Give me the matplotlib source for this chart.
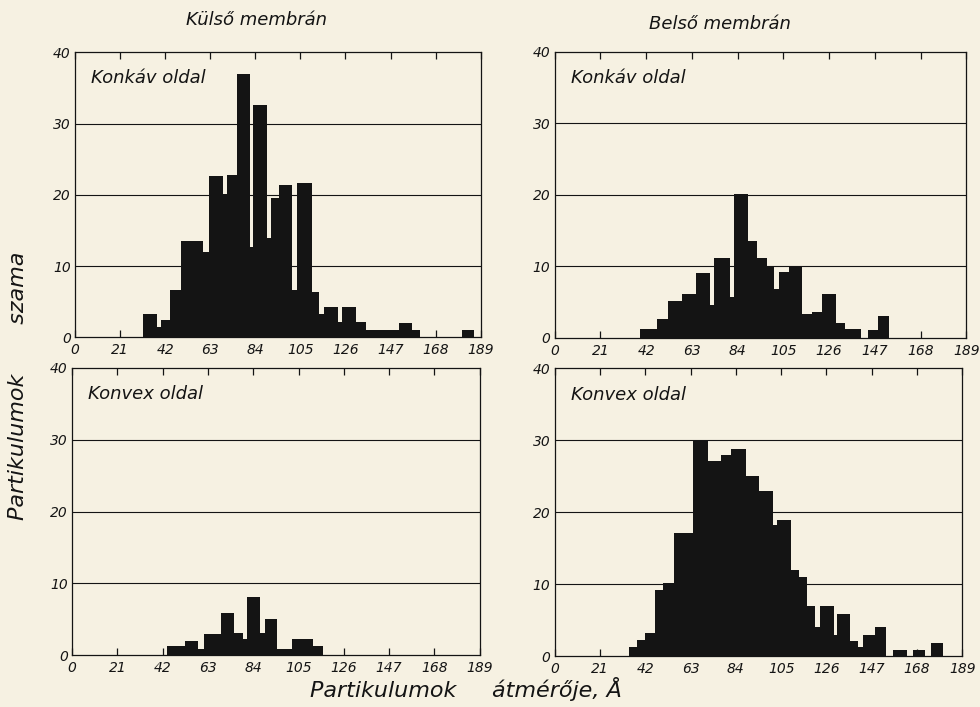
import matplotlib.pyplot as plt
import numpy as np

# bin edges (Å) and particle counts
kulso_konkav_edges = [31.8, 38.0, 40.0, 44.2, 49.3, 59.7, 62.4, 69.0, 70.6, 75.6,
                      81.5, 83.0, 89.5, 91.1, 95.0, 101.2, 103.5, 110.2, 113.8,
                      116.0, 122.3, 124.5, 130.7, 135.5, 151.0, 156.8, 160.6]
kulso_konkav_counts = [3.3, 1.5, 2.4, 6.6, 13.5, 11.9, 22.7, 20.1, 22.8, 37.0,
                       12.7, 32.6, 13.9, 19.6, 21.4, 6.7, 21.7, 6.3, 3.3,
                       4.2, 2.2, 4.2, 2.2, 1.0, 2.0, 1.0]
kulso_konkav_extra_edges = [180.3, 185.8]
kulso_konkav_extra_counts = [1.0]

belso_konkav_edges = [39.2, 47.1, 52.0, 58.3, 64.8, 71.2, 73.3, 80.6, 82.4, 88.9,
                      92.9, 97.4, 100.9, 103.2, 107.7, 113.7, 118.2, 122.7,
                      129.1, 133.3, 140.8]
belso_konkav_counts = [1.3, 2.6, 5.2, 6.2, 9.1, 4.6, 11.1, 5.7, 20.1, 13.5,
                       11.2, 10.1, 6.8, 9.2, 10.0, 3.4, 3.6, 6.2, 2.1, 1.2]
belso_konkav_extra_edges = [143.8, 148.3, 153.6]
belso_konkav_extra_counts = [1.1, 3.0]

kulso_konvex_edges = [44.0, 52.5, 58.2, 61.0, 69.0, 75.2, 79.2, 81.0, 87.2, 89.5,
                      95.2, 101.9, 111.9, 116.2]
kulso_konvex_counts = [1.2, 2.0, 0.8, 3.0, 5.9, 3.1, 2.2, 8.1, 3.1, 5.0,
                       0.9, 2.2, 1.2]

belso_konvex_edges = [34.4, 38.3, 41.8, 46.4, 50.0, 55.1, 64.3, 71.2, 77.3, 81.9,
                      88.8, 94.9, 101.0, 103.0, 109.4, 113.2, 116.8, 120.9,
                      122.9, 129.3, 130.8, 137.0, 140.8, 143.1, 148.4, 153.8]
belso_konvex_counts = [1.2, 2.3, 3.2, 9.2, 10.2, 17.1, 29.9, 27.1, 27.9, 28.8,
                       25.1, 23.0, 18.2, 18.9, 11.9, 11.0, 6.9, 4.0, 6.9, 2.9,
                       5.8, 2.1, 1.2, 2.9, 4.0]
belso_konvex_extra = [(156.8, 163.3, 0.9), (166.0, 171.8, 0.9), (174.4, 179.8, 1.8)]

x_ticks = [0, 21, 42, 63, 84, 105, 126, 147, 168, 189]
y_ticks = [0, 10, 20, 30, 40]

paper = "#f6f1e2"
ink = "#141414"

plt.rcParams["font.family"] = "DejaVu Sans"
plt.rcParams["font.style"] = "italic"

fig = plt.figure(figsize=(9.8, 7.07), dpi=100)
fig.patch.set_facecolor(paper)

ax_tl = fig.add_axes([0.0765, 0.523, 0.414, 0.403])
ax_tr = fig.add_axes([0.566, 0.522, 0.420, 0.405])
ax_bl = fig.add_axes([0.0735, 0.0735, 0.416, 0.406])
ax_br = fig.add_axes([0.566, 0.072, 0.416, 0.407])


def draw_hist(ax, edges, counts):
    ax.stairs(counts, edges, fill=True, color=ink, baseline=0, zorder=3)


def style(ax, label):
    ax.set_facecolor(paper)
    ax.set_xlim(0, 189)
    ax.set_ylim(0, 40)
    ax.set_xticks(x_ticks)
    ax.set_yticks(y_ticks)
    ax.tick_params(axis="x", direction="in", top=True, length=5, width=0.9,
                   labelsize=10, pad=4, colors=ink)
    ax.tick_params(axis="y", length=0, labelsize=10, pad=3, colors=ink)
    for sp in ax.spines.values():
        sp.set_linewidth(0.9)
        sp.set_color(ink)
    for y in (10, 20, 30):
        ax.axhline(y, color=ink, lw=0.8, zorder=1)
    ax.text(0.04, 0.94, label, transform=ax.transAxes, fontsize=13,
            ha="left", va="top", color=ink)


draw_hist(ax_tl, kulso_konkav_edges, kulso_konkav_counts)
draw_hist(ax_tl, kulso_konkav_extra_edges, kulso_konkav_extra_counts)
draw_hist(ax_tr, belso_konkav_edges, belso_konkav_counts)
draw_hist(ax_tr, belso_konkav_extra_edges, belso_konkav_extra_counts)
draw_hist(ax_bl, kulso_konvex_edges, kulso_konvex_counts)
draw_hist(ax_br, belso_konvex_edges, belso_konvex_counts)
for lo, hi, c in belso_konvex_extra:
    draw_hist(ax_br, [lo, hi], [c])

style(ax_tl, "Konkáv oldal")
style(ax_tr, "Konkáv oldal")
style(ax_bl, "Konvex oldal")
style(ax_br, "Konvex oldal")

fig.text(0.262, 0.972, "Külső membrán", ha="center", va="center", fontsize=13, color=ink)
fig.text(0.735, 0.966, "Belső membrán", ha="center", va="center", fontsize=13, color=ink)
fig.text(0.018, 0.455, "Partikulumok       szama", rotation=90, ha="center",
         va="center", fontsize=16, color=ink)
fig.text(0.475, 0.025, "Partikulumok     átmérője, Å", ha="center", va="center",
         fontsize=16, color=ink)

fig.savefig("out.png", dpi=100, facecolor=paper)
